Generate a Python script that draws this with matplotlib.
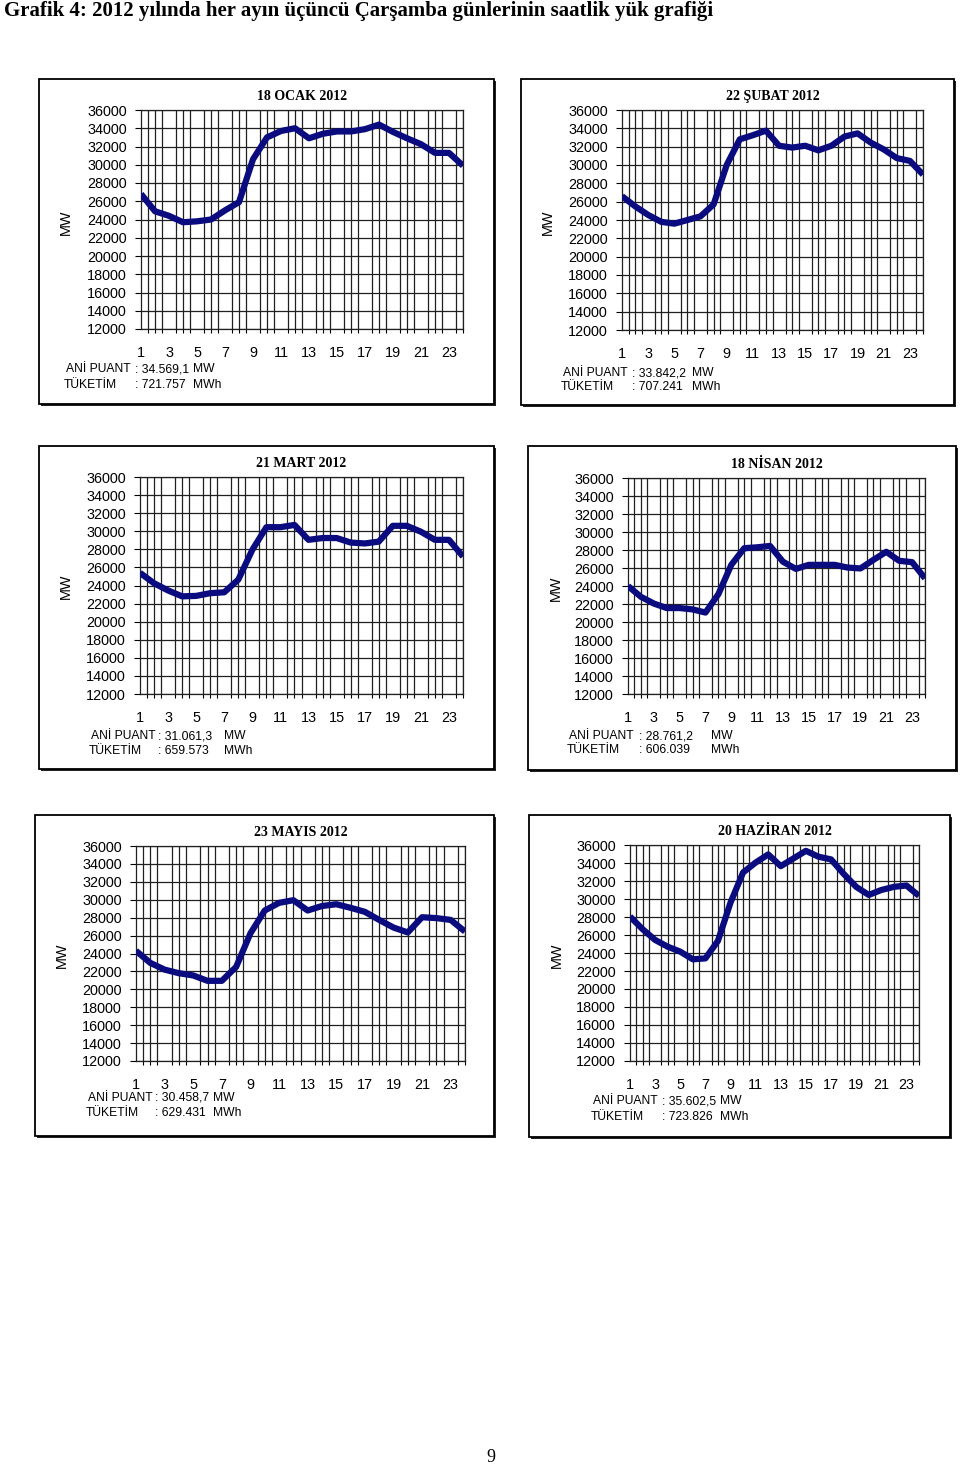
import matplotlib
matplotlib.use('Agg')
import matplotlib.pyplot as plt
from matplotlib.patches import Rectangle
import numpy as np

# Veriler: saatlik yuk (MW), her ayin ucuncu Carsamba gunu
hours = list(range(1, 25))
ocak = [26800, 24900, 24400, 23700, 23800, 24000, 25000, 25900, 30600, 33000, 33700, 34000,
        32900, 33400, 33650, 33650, 33900, 34400, 33600, 32900, 32250, 31300, 31300, 29900]
subat = [26600, 25500, 24550, 23800, 23600, 24000, 24400, 25700, 30000, 32800, 33250, 33750,
         32100, 31900, 32100, 31600, 32100, 33100, 33450, 32450, 31700, 30750, 30450, 28950]
mart = [25400, 24250, 23450, 22800, 22850, 23150, 23250, 24650, 27950, 30450, 30450, 30700,
        29050, 29250, 29250, 28750, 28650, 28850, 30600, 30600, 29950, 29050, 29050, 27200]
nisan = [24000, 22800, 22050, 21550, 21550, 21400, 21050, 23100, 26350, 28200, 28300, 28450,
         26700, 25900, 26350, 26350, 26350, 26050, 25950, 26900, 27800, 26800, 26650, 24850]
mayis = [24300, 22950, 22200, 21800, 21550, 20950, 20950, 22500, 26250, 28800, 29650, 29950,
         28800, 29300, 29500, 29100, 28650, 27750, 26900, 26350, 28050, 27950, 27750, 26450]
haziran = [28050, 26650, 25450, 24700, 24150, 23300, 23400, 25350, 29600, 32950, 34050, 34950,
           33650, 34500, 35350, 34700, 34400, 32800, 31350, 30450, 31000, 31350, 31500, 30350]

series = [ocak, subat, mart, nisan, mayis, haziran]
titles = ['18 OCAK 2012', '22 ŞUBAT 2012', '21 MART 2012',
          '18 NİSAN 2012', '23 MAYIS 2012', '20 HAZİRAN 2012']
peaks = ['34.569,1', '33.842,2', '31.061,3', '28.761,2', '30.458,7', '35.602,5']
energy = ['721.757', '707.241', '659.573', '606.039', '629.431', '723.826']
xlabels = [1, 3, 5, 7, 9, 11, 13, 15, 17, 19, 21, 23]
ylevels = list(range(12000, 36001, 2000))

# Sayfa yerlesimi (piksel)
W, H = 960, 1466
boxes = [(39, 79, 494, 404), (521, 79, 954, 405), (39, 446, 494, 769),
         (528, 446, 956, 770), (35, 815, 494, 1136), (529, 815, 950, 1137)]
plots = [(141, 110, 463, 329), (622, 110, 923, 330), (140, 477, 463, 694),
         (628, 478, 925, 694), (136, 846, 465, 1061), (630, 845, 919, 1061)]
mw_pos = [(66, 222), (548, 222), (66, 586), (556, 588), (62, 955), (557, 955)]
# (etiket x, iki nokta x, birim x, satir1 y, satir2 y)
notes = [(66, 135, 193, 369, 385), (563, 632, 692, 373, 387), (91, 158, 224, 736, 751),
         (569, 639, 711, 736, 750), (88, 155, 213, 1098, 1113), (593, 662, 720, 1101, 1117)]

sans = 'Liberation Sans'
serif = 'Liberation Serif'
fs_note = 8.7


def fx(x):
    return x / W


def fy(y):
    return 1 - y / H


fig = plt.figure(figsize=(W / 100, H / 100), dpi=100)

fig.text(fx(4), fy(11), 'Grafik 4: 2012 yılında her ayın üçüncü Çarşamba günlerinin saatlik yük grafiği',
         family=serif, weight='bold', fontsize=15, va='center', ha='left')

for i in range(6):
    x0, y0, x1, y1 = boxes[i]
    # golge + cerceve
    fig.patches.append(Rectangle((fx(x0 + 2), fy(y1 + 2)), fx(x1 - x0), (y1 - y0) / H,
                                 transform=fig.transFigure, facecolor='#222222',
                                 edgecolor='none', zorder=-3))
    fig.patches.append(Rectangle((fx(x0), fy(y1)), fx(x1 - x0), (y1 - y0) / H,
                                 transform=fig.transFigure, facecolor='white',
                                 edgecolor='black', lw=1.3, zorder=-2))

    px0, py0, px1, py1 = plots[i]
    ax = fig.add_axes([fx(px0), fy(py1), fx(px1 - px0), (py1 - py0) / H])
    ax.plot(hours, series[i], color='#0b0b80', lw=4.5, solid_joinstyle='round',
            solid_capstyle='butt', zorder=3)
    ax.set_xlim(1, 24)
    ax.set_ylim(12000, 36000)
    ax.set_yticks(ylevels)
    ax.set_xticks(xlabels)
    ax.set_xticks(np.arange(1, 24.01, 0.5), minor=True)
    ax.grid(True, which='both', color='#202020', lw=0.9)
    ax.grid(False, which='major', axis='x')
    for s in ax.spines.values():
        s.set_color('#202020')
        s.set_linewidth(0.9)
    ax.tick_params(axis='y', direction='out', length=4, width=0.8, pad=6, labelsize=10.4)
    ax.tick_params(axis='x', which='major', length=0, pad=12.5, labelsize=10.4)
    ax.tick_params(axis='x', which='minor', direction='out', length=3, width=0.8)
    for lab in ax.get_xticklabels() + ax.get_yticklabels():
        lab.set_family(sans)
    ax.set_title(titles[i], family=serif, weight='bold', fontsize=10, pad=7)

    mx, my = mw_pos[i]
    fig.text(fx(mx), fy(my), 'MW', family=sans, fontsize=10.4, rotation=90,
             ha='center', va='center')

    lx, cx, ux, ly1, ly2 = notes[i]
    fig.text(fx(lx), fy(ly1), 'ANİ PUANT', family=sans, fontsize=fs_note, va='center')
    fig.text(fx(cx), fy(ly1), ': ' + peaks[i], family=sans, fontsize=fs_note, va='center')
    fig.text(fx(ux), fy(ly1), 'MW', family=sans, fontsize=fs_note, va='center')
    fig.text(fx(lx - 2), fy(ly2), 'TÜKETİM', family=sans, fontsize=fs_note, va='center')
    fig.text(fx(cx), fy(ly2), ': ' + energy[i], family=sans, fontsize=fs_note, va='center')
    fig.text(fx(ux), fy(ly2), 'MWh', family=sans, fontsize=fs_note, va='center')

fig.text(fx(491), fy(1457), '9', family=serif, fontsize=13, ha='center', va='center')

fig.savefig('out.png', dpi=100)
